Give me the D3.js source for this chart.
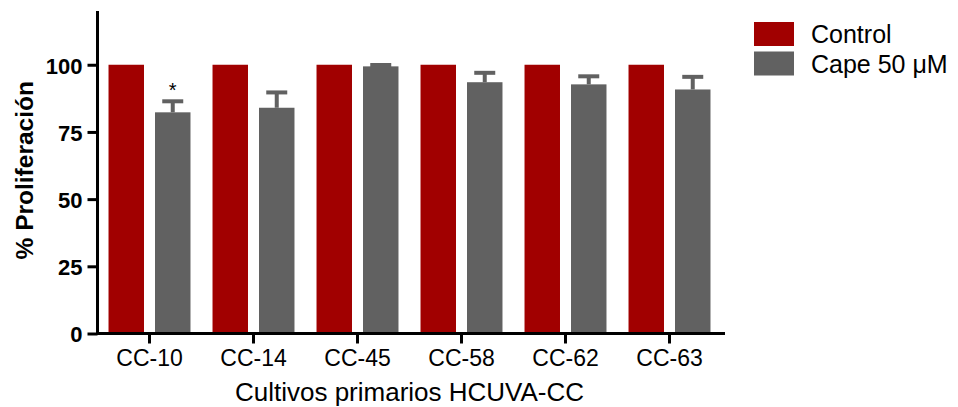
<!DOCTYPE html>
<html>
<head>
<meta charset="utf-8">
<script src="https://cdn.jsdelivr.net/npm/d3@7/dist/d3.min.js"></script>
<style>
  html, body { margin: 0; padding: 0; background: #fff; }
  svg { display: block; font-family: "Liberation Sans", Arial, sans-serif; }
</style>
</head>
<body>
<svg id="chart" width="958" height="407"></svg>
<script>
// Primary cultures and treatment groups
const categories = ["CC-10", "CC-14", "CC-45", "CC-58", "CC-62", "CC-63"];
const seriesNames = ["Control", "Cape 50 μM"];
// Proliferation (% of control)
const controlValues = [100, 100, 100, 100, 100, 100];
const capeValues = [82.3, 84.0, 99.4, 93.5, 92.7, 90.8];
const capeErrors = [4.1, 5.7, 0.5, 3.5, 3.0, 4.7];
const significance = ["*", "", "", "", "", ""];
const yTicks = [0, 25, 50, 75, 100];
const colors = ["#a10000", "#616161"];

const svg = d3.select("#chart");
const margin = { left: 97.5, right: 236.5, top: 11, bottom: 73.5 };
const W = 958, H = 407;

const y = d3.scaleLinear().domain([0, 120]).range([H - margin.bottom, margin.top]);
const x = d3.scaleBand().domain(categories).range([margin.left, W - margin.right]).padding(0);
const xs = d3.scaleBand().domain(seriesNames).range([0, x.bandwidth()]).padding(0.237);

const rows = categories.map((c, i) => ({
  cat: c,
  values: [
    { s: seriesNames[0], v: controlValues[i], err: 0, color: colors[0] },
    { s: seriesNames[1], v: capeValues[i], err: capeErrors[i], color: colors[1], sig: significance[i] }
  ]
}));

// Bars
const groups = svg.append("g").selectAll("g").data(rows).join("g")
  .attr("transform", d => `translate(${x(d.cat)},0)`);

groups.selectAll("rect").data(d => d.values).join("rect")
  .attr("x", d => xs(d.s))
  .attr("width", xs.bandwidth())
  .attr("y", d => y(d.v))
  .attr("height", d => y(0) - y(d.v))
  .attr("fill", d => d.color);

// Upper error bars (SD)
const errG = groups.selectAll("g.err").data(d => d.values.filter(v => v.err > 0)).join("g")
  .attr("class", "err")
  .attr("stroke", d => d.color)
  .attr("stroke-width", 4);
errG.append("line")
  .attr("x1", d => xs(d.s) + xs.bandwidth() / 2)
  .attr("x2", d => xs(d.s) + xs.bandwidth() / 2)
  .attr("y1", d => y(d.v))
  .attr("y2", d => y(d.v + d.err));
errG.append("line")
  .attr("x1", d => xs(d.s) + xs.bandwidth() / 2 - 10.5)
  .attr("x2", d => xs(d.s) + xs.bandwidth() / 2 + 10.5)
  .attr("y1", d => y(d.v + d.err))
  .attr("y2", d => y(d.v + d.err));

// Significance marks
groups.selectAll("text.sig").data(d => d.values.filter(v => v.sig)).join("text")
  .attr("class", "sig")
  .attr("x", d => xs(d.s) + xs.bandwidth() / 2)
  .attr("y", d => y(d.v + d.err) - 4)
  .attr("text-anchor", "middle")
  .attr("font-size", 20)
  .attr("fill", "#000")
  .text(d => d.sig);

// Y axis
const yAxis = svg.append("g")
  .attr("transform", `translate(${margin.left},0)`)
  .call(d3.axisLeft(y).tickValues(yTicks).tickSize(10).tickSizeOuter(0).tickPadding(5));
yAxis.select(".domain").attr("stroke-width", 3).attr("d", `M0,${y(0) + 1.5}V${y(120)}`);
yAxis.selectAll(".tick line").attr("stroke-width", 3);
yAxis.selectAll(".tick text")
  .attr("font-size", 22).attr("font-weight", "bold").attr("fill", "#000")
  .attr("font-family", "'Liberation Sans', Arial, sans-serif")
  .attr("dy", "0.38em");

// X axis
const xAxis = svg.append("g")
  .attr("transform", `translate(0,${y(0)})`)
  .call(d3.axisBottom(x).tickSize(10).tickSizeOuter(0).tickPadding(6));
xAxis.select(".domain").attr("stroke-width", 3)
  .attr("d", `M${x.range()[0] - 1.5},0H${x.range()[1] + 3.5}`);
xAxis.selectAll(".tick line").attr("stroke-width", 3);
xAxis.selectAll(".tick text")
  .attr("font-size", 23).attr("fill", "#000")
  .attr("font-family", "'Liberation Sans', Arial, sans-serif")
  .attr("dy", "0.72em");

// Axis titles
svg.append("text")
  .attr("x", (x.range()[0] + x.range()[1]) / 2)
  .attr("y", 401)
  .attr("text-anchor", "middle")
  .attr("font-size", 26)
  .attr("fill", "#000")
  .text("Cultivos primarios HCUVA-CC");

svg.append("text")
  .attr("transform", `translate(33,${(y(0) + y(120)) / 2 - 2}) rotate(-90)`)
  .attr("text-anchor", "middle")
  .attr("font-size", 24.5)
  .attr("font-weight", "bold")
  .attr("fill", "#000")
  .text("% Proliferación");

// Legend
const legend = svg.append("g").attr("transform", "translate(754,22)");
const li = legend.selectAll("g").data(seriesNames).join("g")
  .attr("transform", (d, i) => `translate(0,${i * 29.5})`);
li.append("rect").attr("width", 40).attr("height", 24).attr("fill", (d, i) => colors[i]);
li.append("text")
  .attr("x", 57).attr("y", 21)
  .attr("font-size", 25).attr("fill", "#000")
  .text(d => d);
</script>
</body>
</html>
